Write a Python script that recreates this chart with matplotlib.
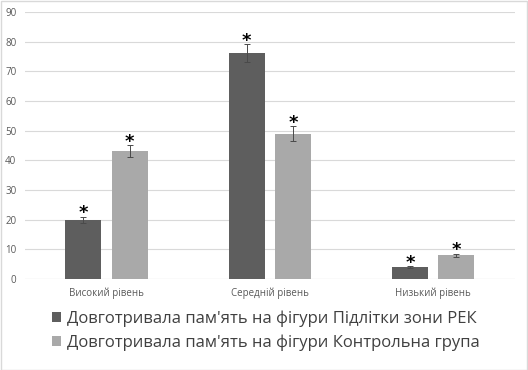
import numpy as np
import matplotlib.pyplot as plt
from matplotlib.patches import Rectangle

plt.rcParams['font.family'] = ['Open Sans', 'DejaVu Sans']

categories = ['Високий рівень', 'Середній рівень', 'Низький рівень']
series_names = ["Довготривала пам'ять на фігури Підлітки зони РЕК",
                "Довготривала пам'ять на фігури Контрольна група"]
rek = [20, 76, 4]
rek_err = [1, 3, 0.3]
control = [43, 49, 8]
control_err = [2, 2.5, 0.5]
colors = ['#5e5e5e', '#a9a9a9']
yticks = list(range(0, 91, 10))

fig = plt.figure(figsize=(5.28, 3.70), dpi=100)
ax = fig.add_axes([0.047, 0.246, 0.928, 0.722])

x = np.arange(len(categories))
w = 0.22
off = 0.142
for vals, errs, col, name, dx in [(rek, rek_err, colors[0], series_names[0], -off),
                                  (control, control_err, colors[1], series_names[1], off)]:
    ax.bar(x + dx, vals, w, color=col, label=name, zorder=2)
    ax.errorbar(x + dx, vals, yerr=errs, fmt='none', ecolor='#4a4a4a',
                elinewidth=0.7, capsize=2, capthick=0.7, zorder=3)
    for xi, v, e in zip(x + dx, vals, errs):
        ax.annotate('*', (xi, v + e), xytext=(0, -4), textcoords='offset points',
                    ha='center', va='bottom', fontsize=13, fontweight='bold',
                    color='black', family='DejaVu Sans')

ax.set_xlim(-0.5, 2.5)
ax.set_ylim(0, 90)
ax.set_yticks(yticks)
ax.set_xticks(x)
ax.set_xticklabels(categories)
ax.tick_params(axis='both', length=0, labelsize=7, labelcolor='#595959')
ax.tick_params(axis='x', pad=6)
ax.tick_params(axis='y', pad=6)
ax.grid(axis='y', color='#d9d9d9', linewidth=0.8, zorder=0)
for s in ax.spines.values():
    s.set_visible(False)
ax.axhline(0, color='#d9d9d9', linewidth=0.8, zorder=1)

fig.legend(loc='upper left', bbox_to_anchor=(0.085, 0.18), frameon=False,
           fontsize=12, handlelength=0.55, handleheight=0.55, handletextpad=0.4,
           labelspacing=0.45, labelcolor='#404040', borderaxespad=0)

fig.patches.append(Rectangle((0.001, 0.001), 0.997, 0.997, transform=fig.transFigure,
                             fill=False, edgecolor='#d9d9d9', linewidth=1))

fig.savefig('out.png', dpi=100)
